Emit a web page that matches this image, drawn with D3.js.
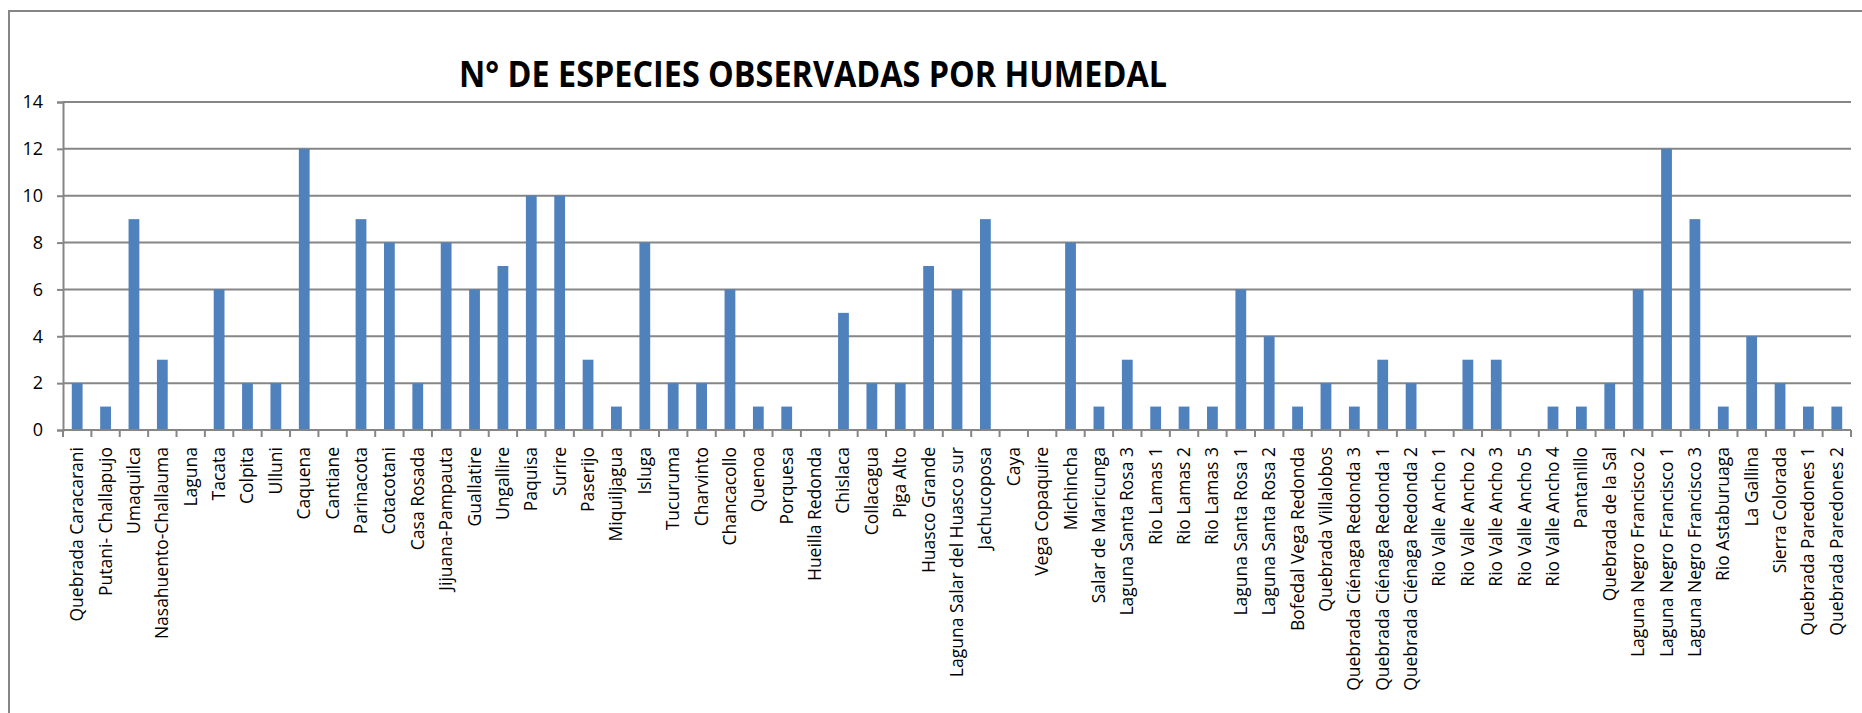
<!DOCTYPE html>
<html>
<head>
<meta charset="utf-8">
<script src="https://cdn.jsdelivr.net/npm/d3@7"></script>
<style>
  html, body { margin: 0; padding: 0; background: #fff; }
  svg { display: block; }
</style>
</head>
<body>
<svg id="chart" width="1862" height="713"></svg>
<script>
// wetlands, in the order they appear on the x axis
const humedales = [
  'Quebrada Caracarani', 'Putani- Challapujo', 'Umaquilca', 'Nasahuento-Challauma', 'Laguna',
  'Tacata', 'Colpita', 'Ulluni', 'Caquena', 'Cantiane', 'Parinacota', 'Cotacotani', 'Casa Rosada',
  'Jijuana-Pampauta', 'Guallatire', 'Ungallire', 'Paquisa', 'Surire', 'Paserijo', 'Miquiljagua',
  'Isluga', 'Tucuruma', 'Charvinto', 'Chancacollo', 'Quenoa', 'Porquesa', 'Hueilla Redonda',
  'Chislaca', 'Collacagua', 'Piga Alto', 'Huasco Grande', 'Laguna Salar del Huasco sur',
  'Jachucoposa', 'Caya', 'Vega Copaquire', 'Michincha', 'Salar de Maricunga', 'Laguna Santa Rosa 3',
  'Rio Lamas 1', 'Rio Lamas 2', 'Rio Lamas 3', 'Laguna Santa Rosa 1', 'Laguna Santa Rosa 2',
  'Bofedal Vega Redonda', 'Quebrada Villalobos', 'Quebrada Ciénaga Redonda 3',
  'Quebrada Ciénaga Redonda 1', 'Quebrada Ciénaga Redonda 2', 'Rio Valle Ancho 1',
  'Rio Valle Ancho 2', 'Rio Valle Ancho 3', 'Rio Valle Ancho 5', 'Rio Valle Ancho 4', 'Pantanillo',
  'Quebrada de la Sal', 'Laguna Negro Francisco 2', 'Laguna Negro Francisco 1',
  'Laguna Negro Francisco 3', 'Rio Astaburuaga', 'La Gallina', 'Sierra Colorada',
  'Quebrada Paredones 1', 'Quebrada Paredones 2'
];

// number of species observed per wetland
const especies = [
  2, 1, 9, 3, 0, 6, 2, 2, 12, 0, 9, 8, 2,
  8, 6, 7, 10, 10, 3, 1,
  8, 2, 2, 6, 1, 1, 0,
  5, 2, 2, 7, 6,
  9, 0, 0, 8, 1, 3,
  1, 1, 1, 6, 4,
  1, 2, 1,
  3, 2, 0,
  3, 3, 0, 1, 1,
  2, 6, 12,
  9, 1, 4, 2,
  1, 1
];

const yTicks = [0, 2, 4, 6, 8, 10, 12, 14];
const titulo = 'N° DE ESPECIES OBSERVADAS POR HUMEDAL';

const gridColor = '#868686';
const barColor = '#4F81BD';

const svg = d3.select('#chart');

// outer chart frame (runs off the right and bottom of the picture)
svg.append('rect')
  .attr('x', 9).attr('y', 11)
  .attr('width', 1900).attr('height', 760)
  .attr('fill', 'none')
  .attr('stroke', gridColor)
  .attr('stroke-width', 2);

const plot = { left: 63, right: 1851, top: 102, bottom: 430 };

const x = d3.scaleBand()
  .domain(humedales)
  .range([plot.left, plot.right])
  .paddingInner(0.62)
  .paddingOuter(0.31);

const y = d3.scaleLinear()
  .domain([0, 14])
  .range([plot.bottom, plot.top]);

// horizontal gridlines
svg.append('g').attr('class', 'grid')
  .selectAll('line')
  .data(yTicks.filter(d => d > 0))
  .join('line')
  .attr('x1', plot.left).attr('x2', plot.right)
  .attr('y1', d => y(d)).attr('y2', d => y(d))
  .attr('stroke', gridColor)
  .attr('stroke-width', 2);

// bars
svg.append('g').attr('class', 'bars')
  .selectAll('rect')
  .data(humedales.map((h, i) => ({ h, v: especies[i] })))
  .join('rect')
  .attr('x', d => x(d.h))
  .attr('width', x.bandwidth())
  .attr('y', d => y(d.v))
  .attr('height', d => y(0) - y(d.v))
  .attr('fill', barColor);

// y axis
const yAxis = svg.append('g')
  .attr('transform', `translate(${plot.left},0)`)
  .call(d3.axisLeft(y).tickValues(yTicks).tickSize(6).tickPadding(14));

yAxis.select('.domain').attr('stroke', gridColor).attr('stroke-width', 2);
yAxis.selectAll('.tick line').attr('stroke', gridColor).attr('stroke-width', 2);
yAxis.selectAll('.tick text')
  .attr('fill', '#000')
  .style('font-family', '"Open Sans", sans-serif')
  .style('font-size', '18px');

// x axis: ticks sit on band boundaries, labels rotated under each bar
const xAxis = svg.append('g').attr('transform', `translate(0,${plot.bottom})`);

const bounds = d3.range(humedales.length + 1)
  .map(i => plot.left + i * (plot.right - plot.left) / humedales.length);

xAxis.append('line')
  .attr('x1', plot.left).attr('x2', plot.right)
  .attr('stroke', gridColor)
  .attr('stroke-width', 2);

xAxis.selectAll('line.tick')
  .data(bounds)
  .join('line')
  .attr('class', 'tick')
  .attr('x1', d => d).attr('x2', d => d)
  .attr('y1', 0).attr('y2', 7)
  .attr('stroke', gridColor)
  .attr('stroke-width', 2);

xAxis.selectAll('text')
  .data(humedales)
  .join('text')
  .attr('transform', d => `translate(${x(d) + x.bandwidth() / 2 + 6},17) rotate(-90)`)
  .attr('text-anchor', 'end')
  .attr('fill', '#000')
  .style('font-family', '"Open Sans", sans-serif')
  .style('font-size', '17.5px')
  .text(d => d);

// title
svg.append('text')
  .attr('x', 459)
  .attr('y', 87)
  .attr('textLength', 708)
  .attr('lengthAdjust', 'spacingAndGlyphs')
  .style('font-family', '"Open Sans", sans-serif')
  .style('font-weight', 'bold')
  .style('font-size', '36px')
  .attr('fill', '#000')
  .text(titulo);
</script>
</body>
</html>
